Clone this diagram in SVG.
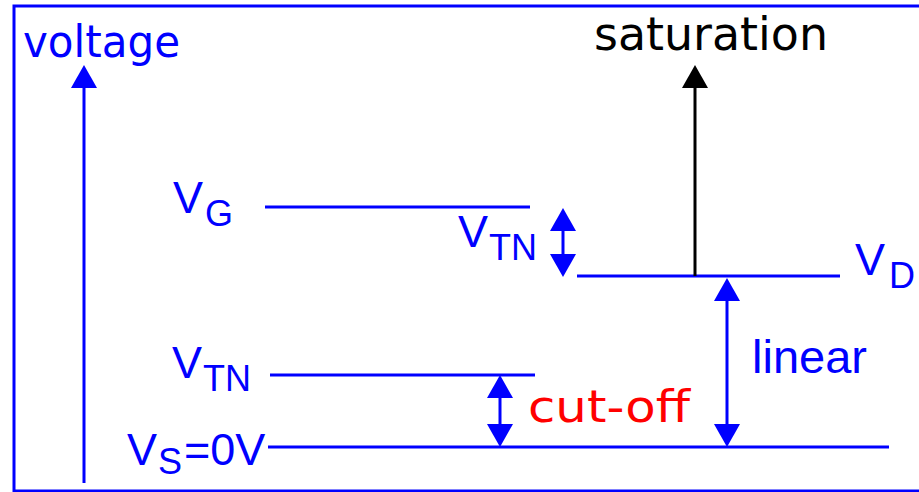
<svg xmlns="http://www.w3.org/2000/svg" width="919" height="492" viewBox="0 0 919 492">
<style>
.ln{stroke:#0000ff;stroke-width:3;fill:none}
.bk{stroke:#000;stroke-width:3;fill:none}
.lab{font-family:"Liberation Sans",Arial,sans-serif;fill:#0000ff;font-size:45px}
.sub{font-size:36px}
.g{font-family:"DejaVu Sans",sans-serif}
</style>
<defs>
<marker id="ah" markerUnits="userSpaceOnUse" viewBox="0 -13 23 26" markerWidth="23" markerHeight="26" refX="13" refY="0" orient="auto-start-reverse">
<path d="M0,-13 L23,0 L0,13 z" fill="#0000ff"/>
</marker>
<marker id="ahk" markerUnits="userSpaceOnUse" viewBox="0 -13 23 26" markerWidth="23" markerHeight="26" refX="13" refY="0" orient="auto-start-reverse">
<path d="M0,-13 L23,0 L0,13 z" fill="#000"/>
</marker>
</defs>
<rect x="14" y="6" width="915" height="485" fill="#fff" stroke="#0000ff" stroke-width="3"/>

<g id="levels">
<line class="ln" x1="265" y1="207" x2="530" y2="207"/>
<line class="ln" x1="577" y1="276" x2="840" y2="276"/>
<line class="ln" x1="270" y1="375" x2="535" y2="375"/>
<line class="ln" x1="268" y1="447" x2="889" y2="447"/>
</g>

<g id="connectors">
<line class="ln" x1="84" y1="483" x2="84" y2="75" marker-end="url(#ah)"/>
<line class="bk" x1="695" y1="276" x2="695" y2="75" marker-end="url(#ahk)"/>
<line class="ln" x1="563" y1="218" x2="563" y2="267" marker-start="url(#ah)" marker-end="url(#ah)"/>
<line class="ln" x1="500" y1="385" x2="500" y2="437" marker-start="url(#ah)" marker-end="url(#ah)"/>
<line class="ln" x1="727" y1="288" x2="727" y2="437" marker-start="url(#ah)" marker-end="url(#ah)"/>
</g>

<g id="voltage"><text class="g" x="23" y="57" font-size="44" fill="#0000ff" textLength="157" lengthAdjust="spacingAndGlyphs">voltage</text></g>
<g id="saturation"><text class="g" x="594" y="50" font-size="46" fill="#000" textLength="234" lengthAdjust="spacingAndGlyphs">saturation</text></g>
<g id="cutoff"><text class="g" x="528" y="422" font-size="45" fill="#ff0000" textLength="162" lengthAdjust="spacingAndGlyphs">cut-off</text></g>
<g id="linear"><text x="752" y="373" font-family="Liberation Sans, Arial, sans-serif" font-size="47" fill="#0000ff">linear</text></g>

<g id="VG"><text class="lab" x="173" y="213">V</text><text class="lab sub" x="205" y="226">G</text></g>
<g id="VTN-right"><text class="lab" x="458" y="247">V</text><text class="lab sub" x="489" y="260">TN</text></g>
<g id="VD"><text class="lab" x="855" y="275">V</text><text class="lab sub" x="889" y="288">D</text></g>
<g id="VTN-left"><text class="lab" x="172" y="378">V</text><text class="lab sub" x="203" y="391">TN</text></g>
<g id="VS"><text class="lab" x="127" y="465">V</text><text class="lab sub" x="158" y="474">S</text><text class="lab" x="184" y="465">=0V</text></g>
</svg>
